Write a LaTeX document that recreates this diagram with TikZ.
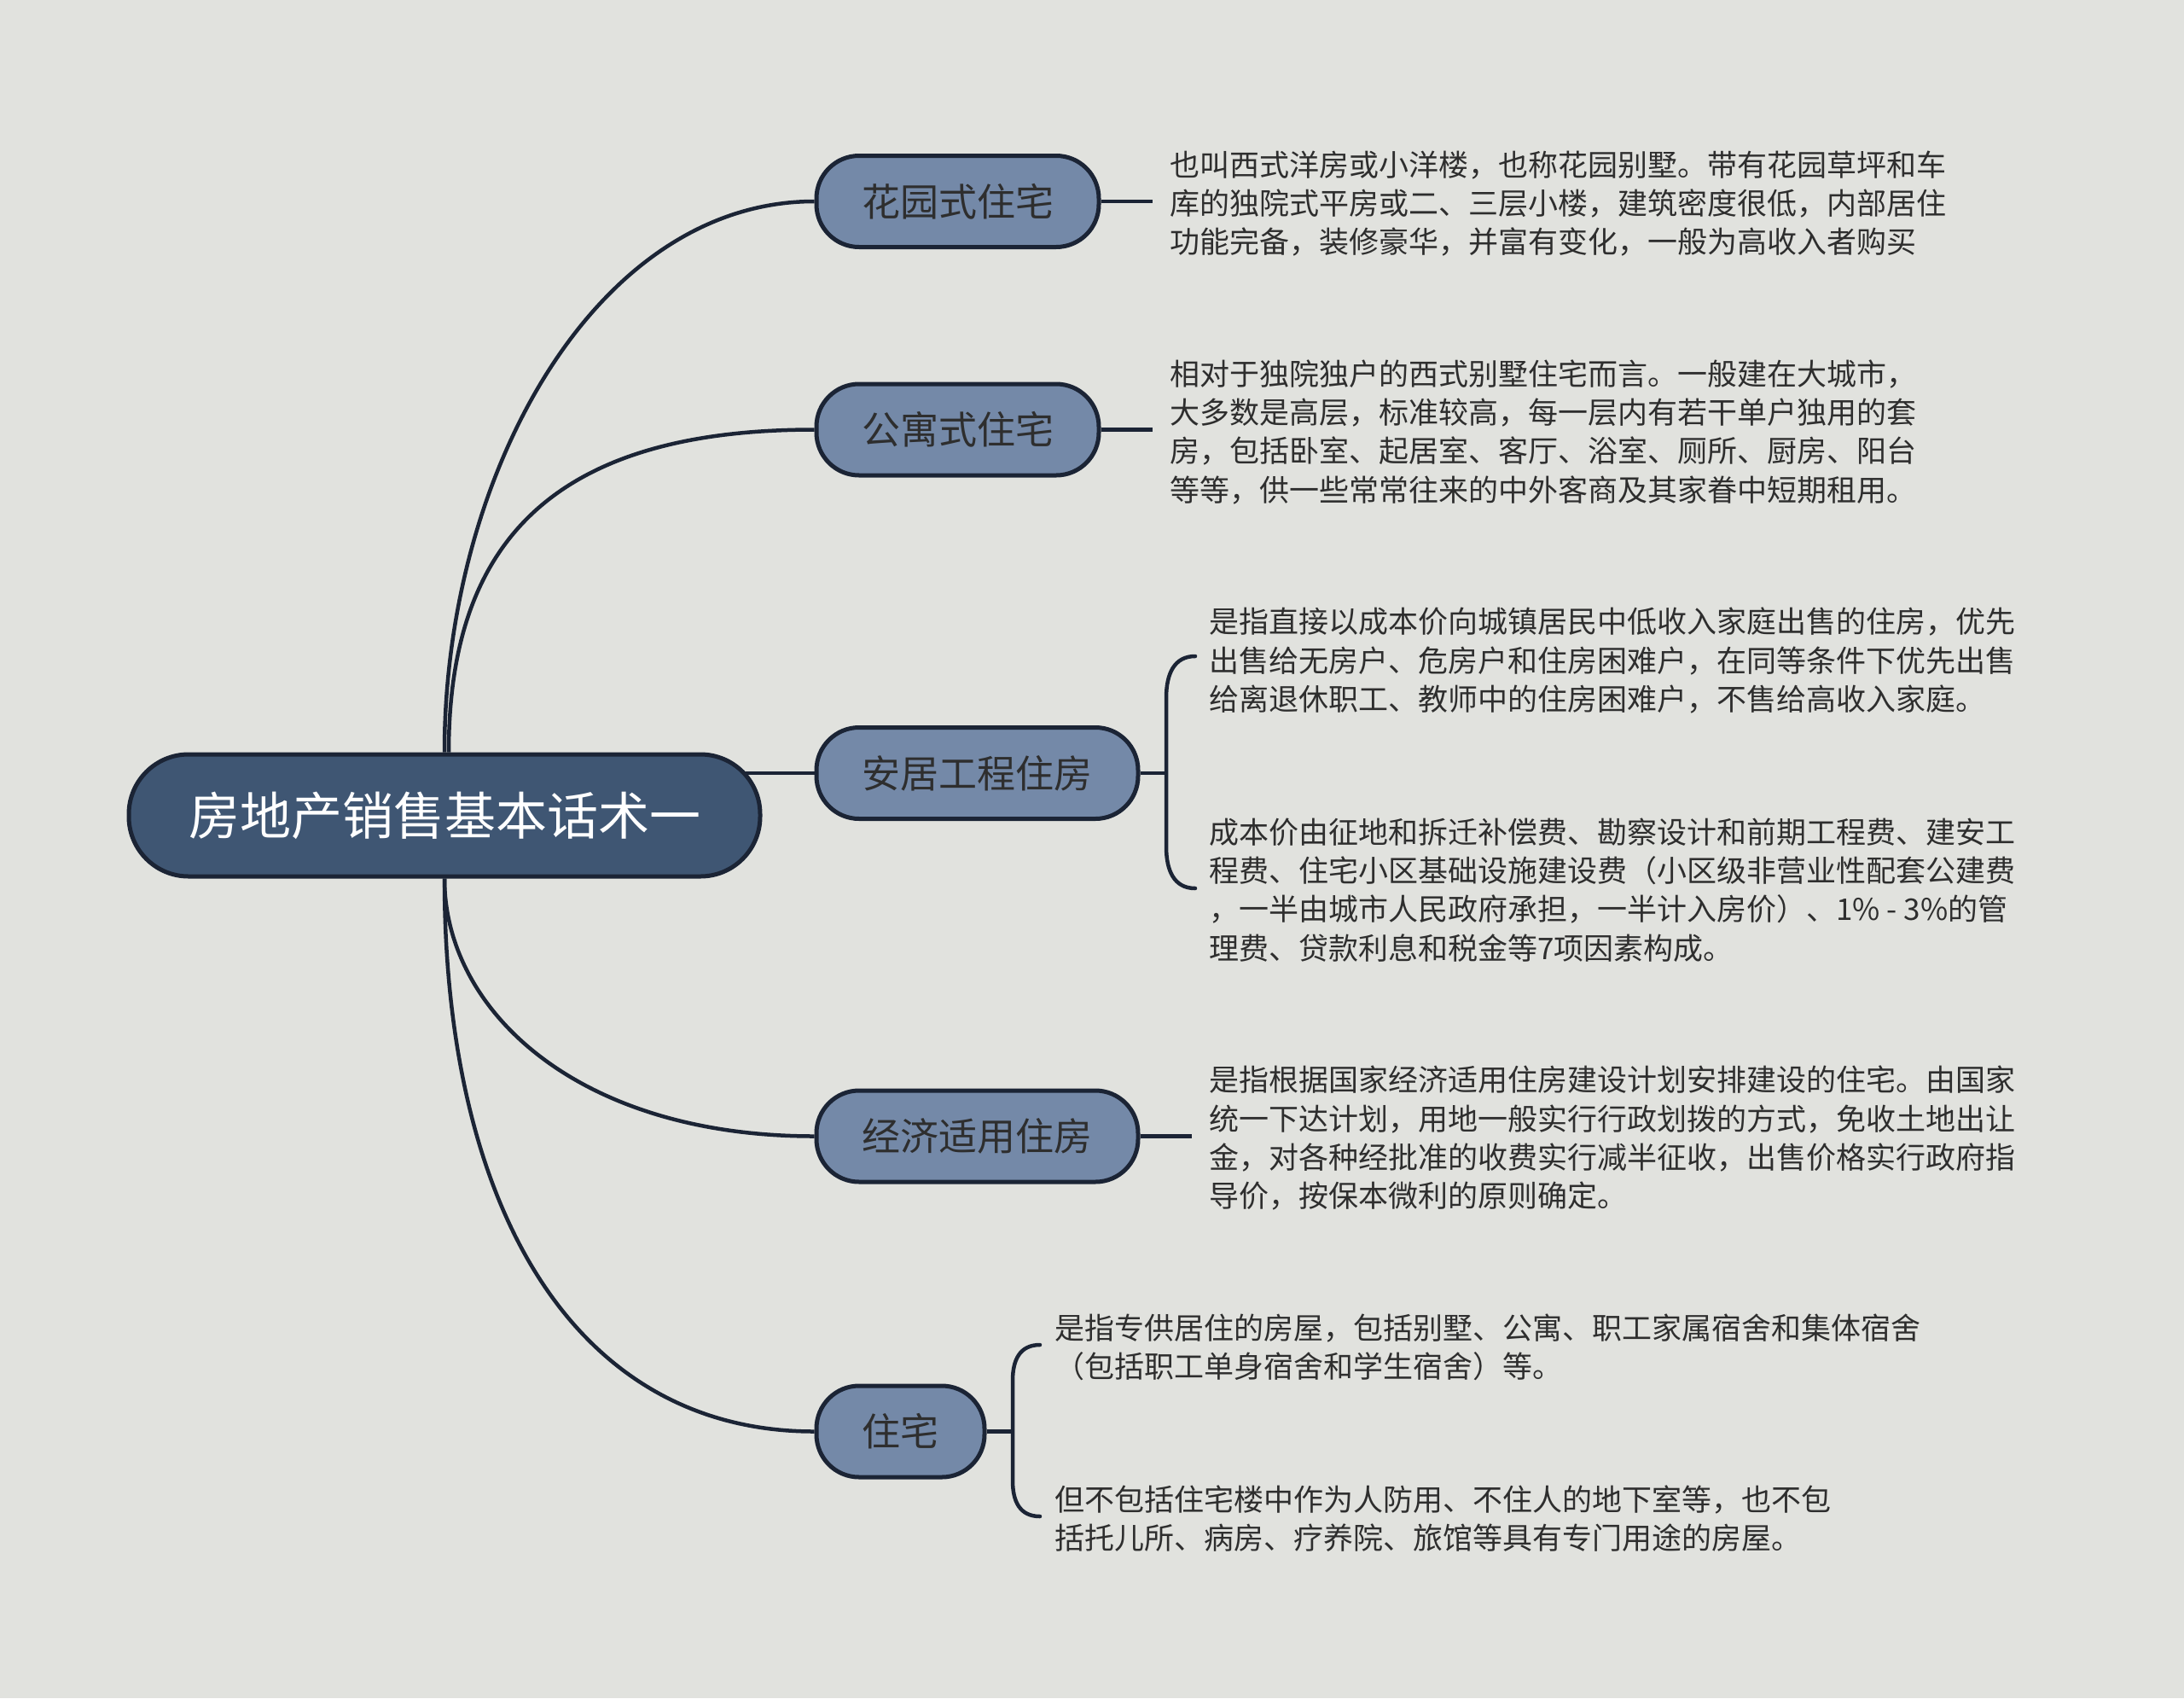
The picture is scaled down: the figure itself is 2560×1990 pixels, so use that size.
\documentclass[tikz,border=0pt]{standalone}
\usepackage{fontspec}
\setmainfont{Noto Sans CJK SC}
\usetikzlibrary{calc}
\definecolor{bgc}{HTML}{E1E2DE}
\definecolor{rootfill}{HTML}{3F5673}
\definecolor{brfill}{HTML}{7489A8}
\definecolor{edgec}{HTML}{1B2435}
\definecolor{txt}{HTML}{2E2E2E}
\pgfdeclarelayer{lines}
\pgfdeclarelayer{paper}
\pgfsetlayers{paper,lines,main}
\begin{document}
\begin{tikzpicture}[x=1pt,y=-1pt,
  rootbox/.style={draw=edgec, line width=5pt, fill=rootfill, rounded corners=70pt,
    minimum width=740pt, minimum height=143pt, inner sep=0pt, text=white,
    font=\fontsize{60}{72}\selectfont},
  branchbox/.style={draw=edgec, line width=5pt, fill=brfill, rounded corners=50pt,
    minimum height=107pt, inner sep=0pt, text=txt, font=\fontsize{45}{54}\selectfont},
  desc/.style={anchor=north west, inner sep=0pt, align=left, text=txt,
    font=\fontsize{35}{45.3}\selectfont},
  conn/.style={draw=edgec, line width=4.5pt},
]
\begin{pgfonlayer}{paper}
\fill[bgc] (0,0) rectangle (2560,1990);
\end{pgfonlayer}
\useasboundingbox (0,0) rectangle (2560,1990);

% nodes
\node[rootbox] (root) at (521,955.5) {房地产销售基本话术一};
\node[branchbox, minimum width=331pt] (b1) at (1122.5,236) {花园式住宅};
\node[branchbox, minimum width=331pt] (b2) at (1122.5,503.5) {公寓式住宅};
\node[branchbox, minimum width=377pt] (b3) at (1145.5,906) {安居工程住房};
\node[branchbox, minimum width=377pt] (b4) at (1145.5,1331.5) {经济适用住房};
\node[branchbox, minimum width=197pt] (b5) at (1055.5,1677.5) {住宅};

% descriptions
\node[desc] (t1) at (1371,174.3) {\strut 也叫西式洋房或小洋楼，也称花园别墅。带有花园草坪和车\\
库的独院式平房或二、三层小楼，建筑密度很低，内部居住\\
功能完备，装修豪华，并富有变化，一般为高收入者购买};
\node[desc] (t2) at (1371,419.2) {\strut 相对于独院独户的西式别墅住宅而言。一般建在大城市，\\
大多数是高层，标准较高，每一层内有若干单户独用的套\\
房，包括卧室、起居室、客厅、浴室、厕所、厨房、阳台\\
等等，供一些常常往来的中外客商及其家眷中短期租用。};
\node[desc] (t3a) at (1417,709.8) {\strut 是指直接以成本价向城镇居民中低收入家庭出售的住房，优先\\
出售给无房户、危房户和住房困难户，在同等条件下优先出售\\
给离退休职工、教师中的住房困难户，不售给高收入家庭。};
\node[desc] (t3b) at (1417,956.3) {\strut 成本价由征地和拆迁补偿费、勘察设计和前期工程费、建安工\\
程费、住宅小区基础设施建设费（小区级非营业性配套公建费\\
，一半由城市人民政府承担，一半计入房价）、1\% - 3\%的管\\
理费、贷款利息和税金等7项因素构成。};
\node[desc] (t4) at (1417,1246.9) {\strut 是指根据国家经济适用住房建设计划安排建设的住宅。由国家\\
统一下达计划，用地一般实行行政划拨的方式，免收土地出让\\
金，对各种经批准的收费实行减半征收，出售价格实行政府指\\
导价，按保本微利的原则确定。};
\node[desc] (t5a) at (1236,1537.5) {\strut 是指专供居住的房屋，包括别墅、公寓、职工家属宿舍和集体宿舍\\
（包括职工单身宿舍和学生宿舍）等。};
\node[desc] (t5b) at (1236,1738.4) {\strut 但不包括住宅楼中作为人防用、不住人的地下室等，也不包\\
括托儿所、病房、疗养院、旅馆等具有专门用途的房屋。};

\coordinate (e1) at (1351,236);
\coordinate (e2) at (1351,503.5);
\coordinate (e4) at (1397,1331.5);
\coordinate (k3) at (1367,906);
\coordinate (k3t) at (1401,769);
\coordinate (k3b) at (1401,1041);
\coordinate (k5) at (1187,1677.5);
\coordinate (k5t) at (1219,1576);
\coordinate (k5b) at (1219,1777);

\begin{pgfonlayer}{lines}
% root connectors
\draw[conn] (root.north) .. controls ($(root.north)+(0,-325)$) and ($(b1.west)+(-257,0)$) .. (b1.west);
\draw[conn] ($(root.north)+(5,0)$) .. controls ($(root.north)+(5,-245)$) and ($(b2.west)+(-307,0)$) .. (b2.west);
\draw[conn] (root.center |- b3.west) -- (b3.west);
\draw[conn] (root.south) .. controls ($(root.south)+(0,155)$) and ($(b4.west)+(-277,0)$) .. (b4.west);
\draw[conn] (root.south) .. controls ($(root.south)+(0,385)$) and ($(b5.west)+(-282,0)$) .. (b5.west);

% branch to text
\draw[conn] (b1.east) -- (e1);
\draw[conn] (b2.east) -- (e2);
\draw[conn] (b4.east) -- (e4);

% brackets
\draw[conn] (b3.east) -- (k3);
\draw[conn, line cap=round] (k3t) .. controls (1376,769) and (1367,790) .. (1367,818) -- (1367,992)
  .. controls (1367,1020) and (1376,1041) .. (k3b);
\draw[conn] (b5.east) -- (k5);
\draw[conn, line cap=round] (k5t) .. controls (1195,1576) and (1187,1594) .. (1187,1618) -- (1187,1735)
  .. controls (1187,1759) and (1195,1777) .. (k5b);
\end{pgfonlayer}
\end{tikzpicture}
\end{document}
